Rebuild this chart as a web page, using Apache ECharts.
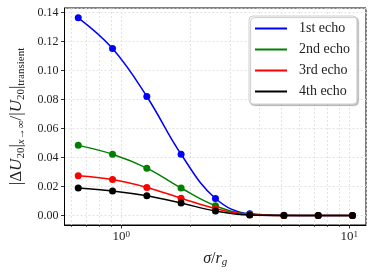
<!DOCTYPE html>
<html><head><meta charset="utf-8">
<script src="https://cdn.jsdelivr.net/npm/echarts@6/dist/echarts.min.js"></script>
<style>html,body{margin:0;padding:0;background:#fff}#c{width:374px;height:273px}</style>
</head><body><div id="c"></div>
<script>
const sigma = [0.648, 0.916, 1.295, 1.83, 2.59, 3.66, 5.17, 7.31, 10.33];
const echo1 = [0.1362, 0.1150, 0.0820, 0.0422, 0.0117, 0.0011, 0.0001, 0.0, 0.0];
const echo2 = [0.0483, 0.0422, 0.0326, 0.0189, 0.0067, 0.0008, 0.0, 0.0, 0.0];
const echo3 = [0.0274, 0.0247, 0.0193, 0.0119, 0.0047, 0.0005, 0.0, 0.0, 0.0];
const echo4 = [0.0189, 0.0169, 0.0135, 0.0085, 0.0031, 0.0003, 0.0, 0.0, 0.0];
const seriesNames = ['1st echo', '2nd echo', '3rd echo', '4th echo'];
const minorXTicks = [0.6, 0.7, 0.8, 0.9, 2, 3, 4, 5, 6, 7, 8, 9];

const FONT = 'Liberation Serif';
const colors = ['#0000ff', '#008000', '#ff0000', '#000000'];
const allData = [echo1, echo2, echo3, echo4];

const chart = echarts.init(document.getElementById('c'), null, {renderer: 'canvas'});

const lineSeries = allData.map((d, i) => ({
  name: seriesNames[i],
  type: 'line',
  data: sigma.map((s, j) => [s, d[j]]),
  smooth: 0.4,
  symbol: 'circle',
  symbolSize: 7,
  showSymbol: true,
  z: 3 + i,
  lineStyle: {color: colors[i], width: 1.5},
  itemStyle: {color: colors[i]},
  emphasis: {disabled: true}
}));

const minorSeries = {
  name: 'minor',
  type: 'custom',
  z: 1,
  silent: true,
  data: minorXTicks.map(v => [v]),
  renderItem: function (params, api) {
    const cs = params.coordSys;
    const x = Math.round(api.coord([api.value(0), 0])[0]) + 0.5;
    const top = cs.y, bot = cs.y + cs.height;
    return {
      type: 'group',
      children: [
        {type: 'line', shape: {x1: x, y1: top, x2: x, y2: bot},
         style: {stroke: '#dcdcdc', lineWidth: 0.8, lineDash: [2, 2]}},
        {type: 'line', shape: {x1: x, y1: bot, x2: x, y2: bot + 2},
         style: {stroke: '#000', lineWidth: 0.6}}
      ]
    };
  }
};

chart.setOption({
  animation: false,
  backgroundColor: '#fff',
  textStyle: {fontFamily: FONT},
  grid: {left: 52, right: 8, top: 8, bottom: 43, show: true, borderColor: '#000', borderWidth: 1, backgroundColor: '#fff'},
  legend: {
    data: seriesNames,
    orient: 'vertical',
    left: 249, top: 16,
    padding: [5, 7, 5, 6],
    itemGap: 6,
    itemWidth: 32, itemHeight: 2,
    icon: 'rect',
    backgroundColor: '#fff',
    borderColor: '#d0d0d0', borderWidth: 1, borderRadius: 4,
    shadowColor: 'rgba(0,0,0,0.22)', shadowBlur: 1, shadowOffsetX: 1.5, shadowOffsetY: 1.5,
    textStyle: {fontFamily: FONT, fontSize: 14, color: '#222', padding: [0, 0, 0, 7], lineHeight: 15}
  },
  xAxis: {
    type: 'log',
    min: 0.564, max: 11.84,
    logBase: 10,
    name: '{i|σ}{n|/}{i|r}{s|g}',
    nameLocation: 'middle',
    nameGap: 25,
    nameTextStyle: {
      rich: {
        i: {fontFamily: FONT, fontStyle: 'italic', fontSize: 16, lineHeight: 18, color: '#222'},
        n: {fontFamily: FONT, fontSize: 16, lineHeight: 18, color: '#222'},
        s: {fontFamily: FONT, fontStyle: 'italic', fontSize: 11, lineHeight: 10, verticalAlign: 'bottom', color: '#222'}
      }
    },
    axisLine: {show: true, onZero: false, lineStyle: {color: '#000', width: 1}},
    axisTick: {show: true, inside: false, length: 3.5, lineStyle: {color: '#000', width: 0.8}},
    axisLabel: {
      margin: 5,
      showMinLabel: false, showMaxLabel: false,
      formatter: v => '{b|10}{p|' + Math.round(Math.log10(v)) + '}',
      rich: {
        b: {fontFamily: FONT, fontSize: 13, lineHeight: 14, color: '#222'},
        p: {fontFamily: FONT, fontSize: 9, lineHeight: 14, verticalAlign: 'top', color: '#222'}
      }
    },
    splitLine: {show: true, lineStyle: {color: '#dcdcdc', width: 0.8, type: [2, 2]}}
  },
  yAxis: {
    type: 'value',
    min: -0.0066, max: 0.1430,
    splitNumber: 7,
    name: '{t||Δ}{i|U}{s|20}{t||}{si|x}{s|→∞}{t|/|}{i|U}{s|20}{t||}{s|transient}',
    nameLocation: 'middle',
    nameRotate: 90,
    nameGap: 38,
    nameTextStyle: {
      rich: {
        t: {fontFamily: FONT, fontSize: 17, lineHeight: 20, color: '#222'},
        i: {fontFamily: FONT, fontStyle: 'italic', fontSize: 17, lineHeight: 20, color: '#222'},
        s: {fontFamily: FONT, fontSize: 11, lineHeight: 10, verticalAlign: 'bottom', color: '#222'},
        si: {fontFamily: FONT, fontStyle: 'italic', fontSize: 11, lineHeight: 10, verticalAlign: 'bottom', color: '#222'}
      }
    },
    axisLine: {show: true, onZero: false, lineStyle: {color: '#000', width: 1}},
    axisTick: {show: true, inside: false, length: 3.5, lineStyle: {color: '#000', width: 0.8}},
    axisLabel: {
      margin: 6,
      showMinLabel: false, showMaxLabel: false,
      fontFamily: FONT, fontSize: 12, color: '#222',
      formatter: v => v.toFixed(2)
    },
    splitLine: {show: true, lineStyle: {color: '#dcdcdc', width: 0.8, type: [2, 2]}}
  },
  series: [minorSeries].concat(lineSeries)
});
</script></body></html>
